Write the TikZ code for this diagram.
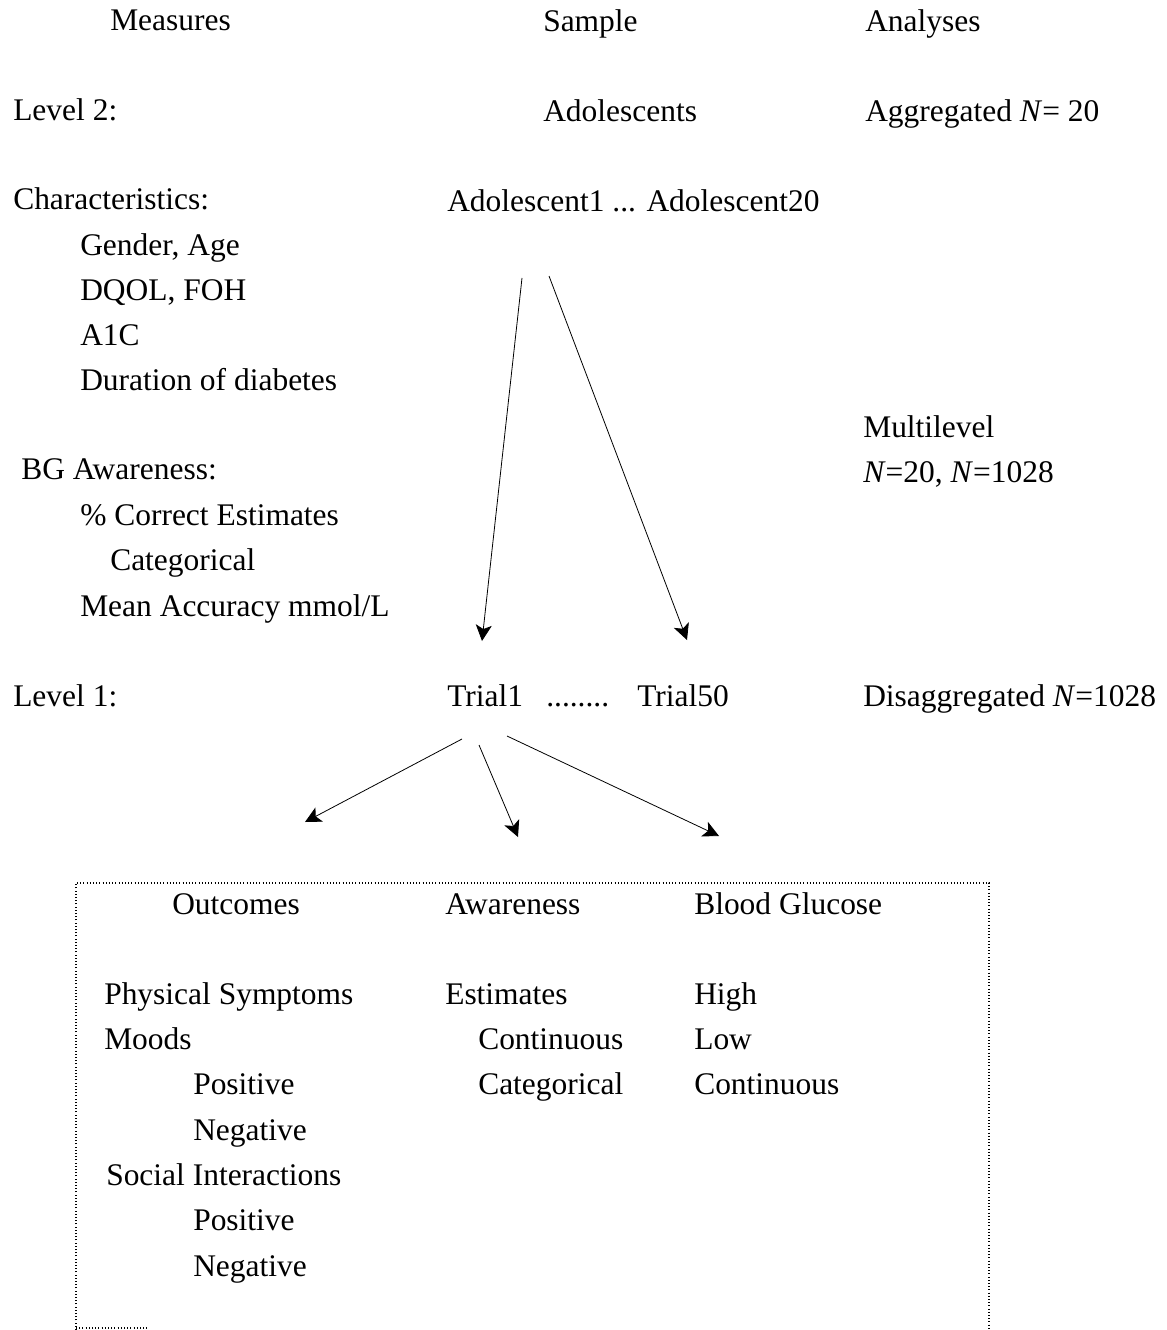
\documentclass[tikz,border=0pt]{standalone}
\usepackage{fontspec}
\setmainfont{Liberation Serif}
\usetikzlibrary{arrows.meta}

\tikzset{
  txt/.style={anchor=base west, inner sep=0pt, font=\fontsize{23.6}{28}\selectfont},
  arr/.style={draw opacity=1, line width=0.6pt, -{Stealth[length=12pt, width=12pt, inset=3pt]}},
  dotbox/.style={line width=0.8pt, dash pattern={on 0.8pt off 1.6pt}}
}

\begin{document}
\begin{tikzpicture}[x=0.75pt,y=0.75pt,yscale=-1,xscale=1]
        \useasboundingbox (0,0) rectangle (1166,1330);

        % Column heads
        \node [txt] (measures) at (110,31) {Measures};
        \node [txt] (sample) at (543,32) {Sample};
        \node [txt] (analyses) at (865,32) {Analyses};

        % Level 2
        \node [txt] (level2) at (13,121) {Level 2:};
        \node [txt] (adolescents) at (543,122) {Adolescents};
        \node [txt] (aggregated) at (865,122) {Aggregated \textit{N}= 20};

        % Characteristics
        \node [txt] (charact) at (13,210) {Characteristics:};
        \node [txt] (adolrow) at (447,212) {Adolescent1 ... Adolescent20};
        \node [txt] (genderage) at (80,256) {Gender, Age};
        \node [txt] (dqol) at (80,300) {DQOL, FOH};
        \node [txt] (aonec) at (80,345) {A1C};
        \node [txt] (duration) at (80,390) {Duration of diabetes};

        % Multilevel
        \node [txt] (multilevel) at (863,437) {Multilevel};
        \node [txt] (multin) at (863,482) {\textit{N}=20, \textit{N}=1028};

        % BG awareness
        \node [txt] (bgaware) at (21,479) {BG Awareness:};
        \node [txt] (correct) at (80,525) {\% Correct Estimates};
        \node [txt] (categ) at (110,570) {Categorical};
        \node [txt] (meanacc) at (80,616) {Mean Accuracy mmol/L};

        % Level 1
        \node [txt] (level1) at (13,706) {Level 1:};
        \node [txt] (trial1) at (447,706) {Trial1};
        \node [txt] (trialdots) at (546,706) {........};
        \node [txt] (trial50) at (637,706) {Trial50};
        \node [txt] (disagg) at (863,706) {Disaggregated \textit{N}=1028};

        % Arrow ends
        \coordinate (adolA) at (522,278);
        \coordinate (adolB) at (549,276);
        \coordinate (tipA) at (482,641);
        \coordinate (tipB) at (687,640);
        \coordinate (trialA) at (462,739);
        \coordinate (trialB) at (479,745);
        \coordinate (trialC) at (507,736);
        \coordinate (tipOut) at (305,822);
        \coordinate (tipAw) at (518,837);
        \coordinate (tipBG) at (719,836);

        %Straight Lines
        \draw [arr] (adolA) -- (tipA);
        \draw [arr] (adolB) -- (tipB);
        \draw [arr] (trialA) -- (tipOut);
        \draw [arr] (trialB) -- (tipAw);
        \draw [arr] (trialC) -- (tipBG);

        %Shape: Dotted box (cut at the bottom)
        \draw [dotbox] (76,1330) -- (76,883) -- (989,883) -- (989,1330);
        \draw [dotbox] (76,1328) -- (148,1328);

        % Box: heads
        \node [txt] (outcomes) at (172,914) {Outcomes};
        \node [txt] (awareness) at (445,914) {Awareness};
        \node [txt] (bloodgl) at (694,914) {Blood Glucose};

        % Box: outcomes
        \node [txt] (physical) at (104,1004) {Physical Symptoms};
        \node [txt] (moods) at (104,1049) {Moods};
        \node [txt] (moodpos) at (193,1094) {Positive};
        \node [txt] (moodneg) at (193,1140) {Negative};
        \node [txt] (social) at (106,1185) {Social Interactions};
        \node [txt] (socpos) at (193,1230) {Positive};
        \node [txt] (socneg) at (193,1276) {Negative};

        % Box: awareness
        \node [txt] (estimates) at (445,1004) {Estimates};
        \node [txt] (estcont) at (478,1049) {Continuous};
        \node [txt] (estcat) at (478,1094) {Categorical};

        % Box: blood glucose
        \node [txt] (high) at (694,1004) {High};
        \node [txt] (low) at (694,1049) {Low};
        \node [txt] (bgcont) at (694,1094) {Continuous};

\end{tikzpicture}
\end{document}
